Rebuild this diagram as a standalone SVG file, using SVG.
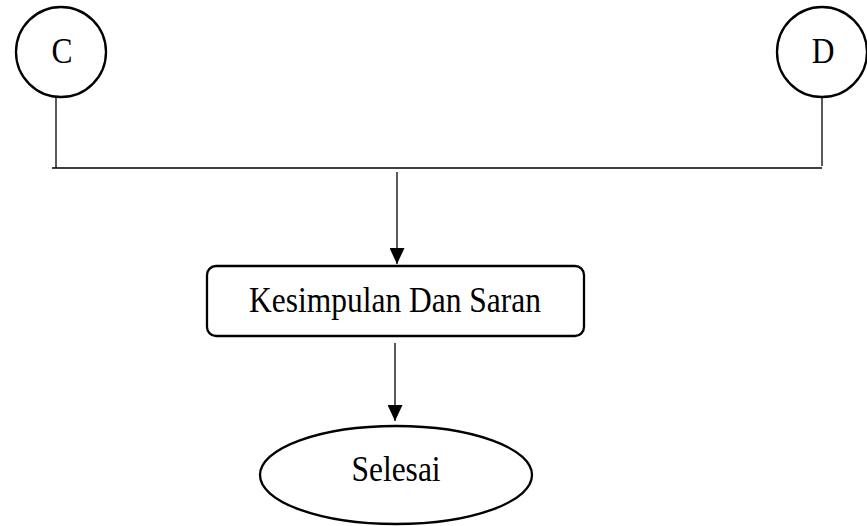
<svg xmlns="http://www.w3.org/2000/svg" width="867" height="526" viewBox="0 0 867 526">
  <defs>
    <marker id="arrow" markerWidth="16" markerHeight="15" refX="16" refY="7.5" orient="auto" markerUnits="userSpaceOnUse">
      <path d="M0,0 L16,7.5 L0,15 Z" fill="#000"/>
    </marker>
    <style>
      .shape { fill: #fff; stroke: #000; stroke-width: 2.3; }
      .line { fill: none; stroke: #000; stroke-width: 1.3; }
      .label { font-family: "Liberation Serif", "Times New Roman", serif; fill: #000; text-anchor: middle; font-size: 31.5px; }
    </style>
  </defs>
  <rect width="867" height="526" fill="#fff"/>

  <g id="connectors">
    <line class="line" x1="56" y1="97" x2="56" y2="168"/>
    <line class="line" x1="822" y1="98" x2="822" y2="166"/>
    <line class="line" x1="52" y1="168" x2="822" y2="168"/>
    <line class="line" x1="397" y1="172" x2="397" y2="264" marker-end="url(#arrow)"/>
    <line class="line" x1="395" y1="343" x2="395" y2="421" marker-end="url(#arrow)"/>
  </g>

  <g id="node-c">
    <circle class="shape" cx="61" cy="52" r="45"/>
    <text class="label" transform="translate(62,63) scale(1,1.15)">C</text>
  </g>

  <g id="node-d">
    <circle class="shape" cx="822" cy="52" r="45"/>
    <text class="label" transform="translate(823,63) scale(1,1.15)">D</text>
  </g>

  <g id="node-kesimpulan">
    <rect class="shape" x="207" y="266" width="377" height="70" rx="9" ry="9"/>
    <text class="label" transform="translate(395,312) scale(1,1.15)">Kesimpulan Dan Saran</text>
  </g>

  <g id="node-selesai">
    <ellipse class="shape" cx="396" cy="475" rx="136" ry="49"/>
    <text class="label" transform="translate(396,481) scale(1,1.15)">Selesai</text>
  </g>
</svg>
